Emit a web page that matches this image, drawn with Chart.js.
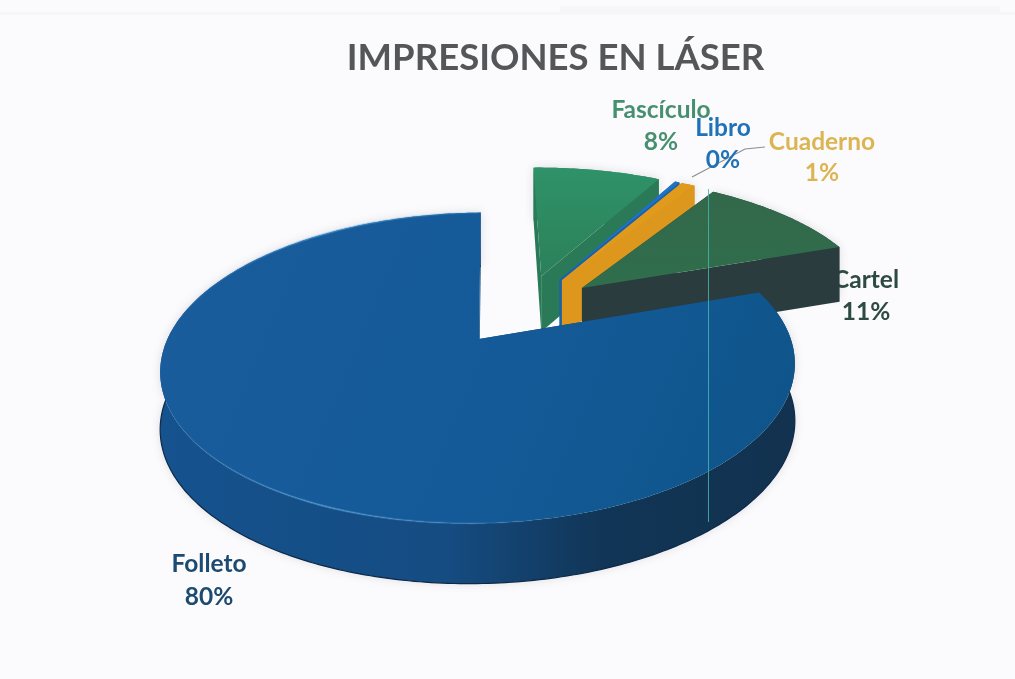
<!DOCTYPE html>
<html><head><meta charset="utf-8">
<style>html,body{margin:0;padding:0;background:#fbfbfd;width:1015px;height:679px;overflow:hidden}canvas{display:block}</style>
<script src="https://cdn.jsdelivr.net/npm/chart.js@4"></script>
</head><body>
<canvas id="c" width="1015" height="679"></canvas>
<script>
const titleText = 'IMPRESIONES EN LÁSER';
const categories = ['Fascículo','Libro','Cuaderno','Cartel','Folleto'];
const shares = [8.3, 0.3, 0.9, 10.5, 80];
const sliceColors = ['#2f8f66','#1f72c4','#e09a1c','#356b4c','#17599a'];
const labelColors = ['#47906f','#1f72b8','#dcb552','#2e4a44','#1d4a70'];

// Style: pseudo-3D projection of the library's arc elements
const VIEW = {cx:524, cy:309, R:300, k:139, persp:0.18, depth:56, depthPersp:0.3};
const labelPos = [[661,110,142],[723,128,160],[822,142,173],[866,280,312],[209,564,597]];
const wallColors = ['#2a7f5a','#1a62a8','#c9891a','#2b3f3f'];
const cutColors = ['#2a7a57','#1a62a8','#dc971c','#2a3c3d','#123f6d'];

function proj(u,v,z){
  const w = 1 - VIEW.persp*v;
  return [VIEW.cx + VIEW.R*u/w, VIEW.cy + VIEW.k*v/w + (z||0)*VIEW.depth/Math.pow(w,VIEW.depthPersp)];
}
function sliceGeom(el){
  const p = el.getProps(['startAngle','endAngle','outerRadius'],true);
  const mid = (p.startAngle+p.endAngle)/2, e = el.options.offset/p.outerRadius;
  const ou = Math.cos(mid)*e, ov = Math.sin(mid)*e, arc = [];
  const n = Math.max(2, Math.ceil((p.endAngle-p.startAngle)/0.015));
  for(let i=0;i<=n;i++){
    const a = p.startAngle+(p.endAngle-p.startAngle)*i/n;
    arc.push([ou+Math.cos(a), ov+Math.sin(a)]);
  }
  return {apex:[ou,ov], arc};
}
function poly(ctx,pts,fill){
  ctx.beginPath();
  pts.forEach((q,i)=> i?ctx.lineTo(q[0],q[1]):ctx.moveTo(q[0],q[1]));
  ctx.closePath(); ctx.fillStyle=fill; ctx.fill();
}
function band(a,b){
  return [proj(a[0],a[1],0),proj(b[0],b[1],0),proj(b[0],b[1],1),proj(a[0],a[1],1)];
}
function drawText(ctx,i,values){
  const total = values.reduce((s,v)=>s+v,0);
  const [x,y1,y2] = labelPos[i];
  ctx.fillStyle = labelColors[i];
  ctx.textAlign='center'; ctx.textBaseline='middle';
  ctx.font='bold 24.5px Lato, "Open Sans", sans-serif';
  ctx.fillText(categories[i],x,y1);
  ctx.fillText(Math.round(values[i]/total*100)+'%',x,y2);
}
const pie3d = {
  id:'pie3d',
  beforeDatasetsDraw(chart){
    const ctx = chart.ctx, meta = chart.getDatasetMeta(0), values = chart.data.datasets[0].data;
    ctx.save();
    // faint scan marks along the top of the page
    ctx.fillStyle='rgba(120,120,130,0.04)';
    ctx.fillRect(0,12,1015,3); ctx.fillRect(560,6,440,6);
    drawText(ctx,3,values);
    meta.data.forEach((el,i)=>{
      const g = sliceGeom(el), outer = g.arc.slice(), rev = outer.slice().reverse();
      const wallPts = outer.map(q=>proj(q[0],q[1],0)).concat(rev.map(q=>proj(q[0],q[1],1)));
      let wg = wallColors[i];
      if(i===4){
        const xs = wallPts.map(q=>q[0]);
        wg = ctx.createLinearGradient(Math.min(...xs),0,Math.max(...xs),0);
        wg.addColorStop(0,'#15528e'); wg.addColorStop(0.45,'#154c82');
        wg.addColorStop(0.7,'#113556'); wg.addColorStop(1,'#12324f');
      }
      const faces = [
        {pts:band(g.apex,outer[0]),fill:cutColors[i]},
        {pts:band(g.apex,outer[outer.length-1]),fill:cutColors[i]},
        {pts:wallPts,fill:wg,wall:true}
      ];
      const my = f => f.pts.reduce((s,q)=>s+q[1],0)/f.pts.length;
      faces.sort((a,b)=>my(a)-my(b));
      faces.forEach(f=>{
        ctx.save();
        if(f.wall){ctx.shadowColor='rgba(60,60,90,0.16)';ctx.shadowBlur=10;}
        poly(ctx,f.pts,f.fill);
        ctx.restore();
      });
      if(i===4){
        ctx.beginPath();
        outer.forEach((q,j)=>{const s=proj(q[0],q[1],1); j?ctx.lineTo(s[0],s[1]):ctx.moveTo(s[0],s[1]);});
        ctx.strokeStyle='#0d2a48'; ctx.lineWidth=1.2; ctx.stroke();
      }
      // top face
      const top = [proj(g.apex[0],g.apex[1],0)].concat(outer.map(q=>proj(q[0],q[1],0)));
      const ys = top.map(q=>q[1]);
      let tf = el.options.backgroundColor;
      if(i===4){
        tf = ctx.createLinearGradient(160,260,790,520);
        tf.addColorStop(0,'#1a5c9c'); tf.addColorStop(0.55,'#145a98'); tf.addColorStop(1,'#0e5488');
      } else if(i===0){
        tf = ctx.createLinearGradient(0,Math.min(...ys),0,Math.max(...ys));
        tf.addColorStop(0,'#2f9268'); tf.addColorStop(1,'#2b8059');
      } else if(i===3){
        tf = ctx.createLinearGradient(0,Math.min(...ys),0,Math.max(...ys));
        tf.addColorStop(0,'#33684b'); tf.addColorStop(1,'#2f6e4c');
      }
      poly(ctx,top,tf);
      if(i===4){
        // bevel highlight along the front rim
        const hg = ctx.createLinearGradient(165,0,560,0);
        hg.addColorStop(0,'rgba(90,170,225,0)');
        hg.addColorStop(0.4,'rgba(90,170,225,0.5)');
        hg.addColorStop(1,'rgba(90,170,225,0)');
        ctx.beginPath();
        outer.forEach((q,j)=>{const s=proj(q[0],q[1],0); j?ctx.lineTo(s[0],s[1]):ctx.moveTo(s[0],s[1]);});
        ctx.strokeStyle=hg; ctx.lineWidth=2; ctx.stroke();
      }
    });
    // leader line to the Cuaderno label
    ctx.beginPath(); ctx.moveTo(692,177); ctx.lineTo(745,149); ctx.lineTo(765,147);
    ctx.strokeStyle='#8e8e8e'; ctx.lineWidth=1.2; ctx.stroke();
    // scanner streak
    ctx.beginPath(); ctx.moveTo(708.5,189); ctx.lineTo(708.5,522);
    ctx.strokeStyle='rgba(70,180,170,0.85)'; ctx.lineWidth=1; ctx.stroke();
    [0,1,2,4].forEach(i=>drawText(ctx,i,values));
    ctx.restore();
    return false;
  }
};
new Chart(document.getElementById('c'),{
  type:'pie',
  data:{labels:categories,datasets:[{data:shares,backgroundColor:sliceColors,borderWidth:0,offset:66}]},
  plugins:[pie3d],
  options:{
    responsive:false,animation:false,rotation:-1.2,
    layout:{padding:{left:96}},
    plugins:{
      legend:{display:false},tooltip:{enabled:false},
      title:{display:true,text:titleText,fullSize:false,color:'#55565a',
        font:{family:'Lato, "Open Sans", sans-serif',size:36.5,weight:'bold'},padding:{top:36,bottom:10}}
    }
  }
});
</script>
</body></html>
